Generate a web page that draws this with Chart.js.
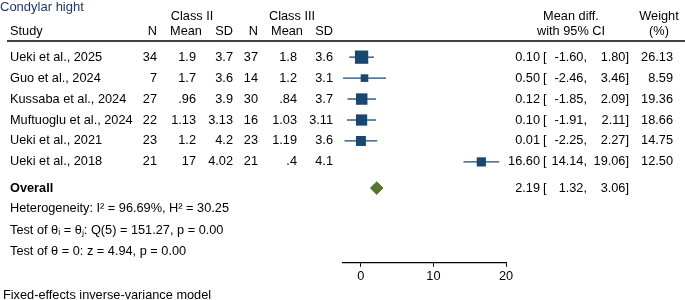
<!DOCTYPE html>
<html>
<head>
<meta charset="utf-8">
<script src="https://cdn.jsdelivr.net/npm/chart.js@4"></script>
<style>
  html, body { margin: 0; padding: 0; background: #fff; }
  #wrap { width: 685px; height: 300px; }
</style>
</head>
<body>
<div id="wrap"><canvas id="forest"></canvas></div>
<script>
const studies = [
  "Ueki et al., 2025",
  "Guo et al., 2024",
  "Kussaba et al., 2024",
  "Muftuoglu et al., 2024",
  "Ueki et al., 2021",
  "Ueki et al., 2018",
];
const nClass2 = [34, 7, 27, 22, 23, 21];
const meanClass2 = ["1.9", "1.7", ".96", "1.13", "1.2", "17"];
const sdClass2 = ["3.7", "3.6", "3.9", "3.13", "4.2", "4.02"];
const nClass3 = [37, 14, 30, 16, 23, 21];
const meanClass3 = ["1.8", "1.2", ".84", "1.03", "1.19", ".4"];
const sdClass3 = ["3.6", "3.1", "3.7", "3.11", "3.6", "4.1"];
const meanDiff = [0.1, 0.5, 0.12, 0.1, 0.01, 16.6];
const ciLow = [-1.6, -2.46, -1.85, -1.91, -2.25, 14.14];
const ciHigh = [1.8, 3.46, 2.09, 2.11, 2.27, 19.06];
const weights = [26.13, 8.59, 19.36, 18.66, 14.75, 12.5];
const overallEst = 2.19;
const overallLow = 1.32;
const overallHigh = 3.06;
const xTicks = [0, 10, 20];

const NAVY = "#1a476f";
const GREEN = "#55752f";
const FAMILY = "'Liberation Sans', Arial, sans-serif";
const FONT = "12.75px " + FAMILY;
const OVERALL_ROW = 6.25;

// diamond as closed polygon in data units
const diamond = [
  { x: overallLow, y: OVERALL_ROW },
  { x: overallEst, y: OVERALL_ROW - 0.3 },
  { x: overallHigh, y: OVERALL_ROW },
  { x: overallEst, y: OVERALL_ROW + 0.3 },
  { x: overallLow, y: OVERALL_ROW },
];

const ciDatasets = studies.map((s, i) => ({
  type: "line",
  data: [
    { x: ciLow[i], y: i },
    { x: ciHigh[i], y: i },
  ],
  borderColor: NAVY,
  borderWidth: 1.3,
  pointRadius: 0,
  clip: false,
}));

const boxDataset = {
  type: "scatter",
  data: meanDiff.map((m, i) => ({ x: m, y: i })),
  pointStyle: "rect",
  // box side proportional to sqrt(weight)
  pointRadius: weights.map((w) => (2.6 * Math.sqrt(w)) / Math.SQRT2),
  backgroundColor: NAVY,
  borderColor: NAVY,
  borderWidth: 0,
  clip: false,
};

const diamondDataset = {
  type: "line",
  data: diamond,
  borderColor: GREEN,
  backgroundColor: GREEN,
  borderWidth: 1,
  pointRadius: 0,
  fill: "shape",
  tension: 0,
  clip: false,
};

const fmt = (v) => v.toFixed(2);

const tablePlugin = {
  id: "forestTable",
  afterDraw(chart) {
    const ctx = chart.ctx;
    const yScale = chart.scales.y;
    const text = (str, x, y, align) => {
      ctx.textAlign = align || "left";
      ctx.fillText(str, x, y);
    };
    ctx.save();
    ctx.textBaseline = "middle";

    // title
    ctx.fillStyle = "#1e3a66";
    ctx.font = "13px " + FAMILY;
    text("Condylar hight", 0, 7);

    ctx.fillStyle = "#000";
    ctx.font = FONT;
    text("Class II", 192, 16, "center");
    text("Class III", 292, 16, "center");
    text("Mean diff.", 571, 16, "center");
    text("Weight", 659, 16, "center");

    text("Study", 10, 31);
    text("N", 157, 31, "right");
    text("Mean", 186, 31, "center");
    text("SD", 233, 31, "right");
    text("N", 258, 31, "right");
    text("Mean", 287, 31, "center");
    text("SD", 333, 31, "right");
    text("with 95% CI", 571, 31, "center");
    text("(%)", 659, 31, "center");

    ctx.strokeStyle = "#000";
    ctx.lineWidth = 1.5;
    ctx.beginPath();
    ctx.moveTo(7, 41);
    ctx.lineTo(685, 41);
    ctx.stroke();

    studies.forEach((s, i) => {
      const y = yScale.getPixelForValue(i);
      text(s, 10, y);
      text(String(nClass2[i]), 157, y, "right");
      text(meanClass2[i], 196, y, "right");
      text(sdClass2[i], 233, y, "right");
      text(String(nClass3[i]), 258, y, "right");
      text(meanClass3[i], 297, y, "right");
      text(sdClass3[i], 333, y, "right");
      text(fmt(meanDiff[i]), 540, y, "right");
      text("[", 543, y);
      text(fmt(ciLow[i]) + ",", 587, y, "right");
      text(fmt(ciHigh[i]) + "]", 629, y, "right");
      text(fmt(weights[i]), 673, y, "right");
    });

    const yo = yScale.getPixelForValue(OVERALL_ROW);
    ctx.font = "bold " + FONT;
    text("Overall", 10, yo);
    ctx.font = FONT;
    text(fmt(overallEst), 540, yo, "right");
    text("[", 543, yo);
    text(fmt(overallLow) + ",", 587, yo, "right");
    text(fmt(overallHigh) + "]", 629, yo, "right");

    text("Heterogeneity: I\u00B2 = 96.69%, H\u00B2 = 30.25", 10, 208);
    text("Test of \u03B8\u1D62 = \u03B8\u2C7C: Q(5) = 151.27, p = 0.00", 10, 230);
    text("Test of \u03B8 = 0: z = 4.94, p = 0.00", 10, 251);
    text("Fixed-effects inverse-variance model", 3, 295);
    ctx.restore();
  },
};

new Chart(document.getElementById("forest"), {
  type: "scatter",
  data: { datasets: [...ciDatasets, boxDataset, diamondDataset] },
  options: {
    responsive: true,
    maintainAspectRatio: false,
    animation: false,
    layout: { padding: { left: 343, right: 179, top: 36.2, bottom: 14 } },
    scales: {
      x: {
        type: "linear",
        min: -2.46,
        max: 20,
        afterBuildTicks: (axis) => {
          axis.ticks = xTicks.map((v) => ({ value: v }));
        },
        grid: { drawOnChartArea: false, drawTicks: true, tickLength: 4, color: "#000" },
        border: { display: true, color: "#000", width: 1.2 },
        ticks: {
          color: "#000",
          padding: 2,
          maxRotation: 0,
          font: { family: FAMILY, size: 12.75 },
        },
      },
      y: {
        type: "linear",
        reverse: true,
        min: -1,
        max: 9.81,
        display: false,
      },
    },
    plugins: {
      legend: { display: false },
      tooltip: { enabled: false },
    },
  },
  plugins: [tablePlugin],
});
</script>
</body>
</html>
